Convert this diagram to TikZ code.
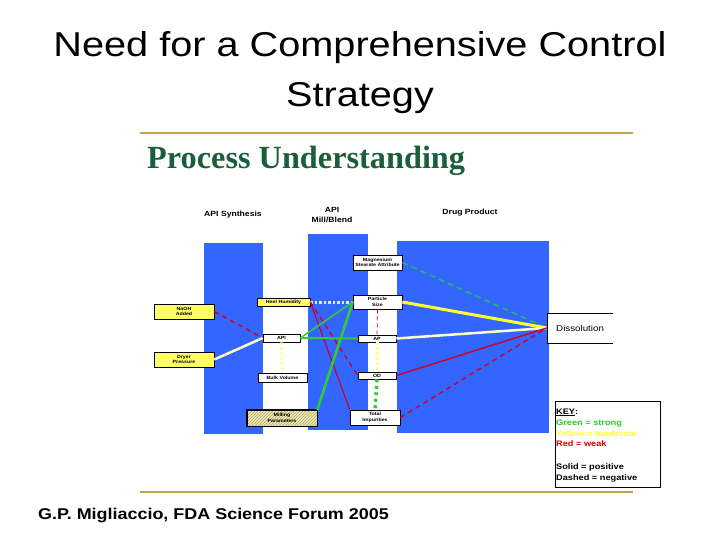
\documentclass[tikz,border=0pt]{standalone}
\usepackage{fontspec}
\setmainfont{Liberation Sans}
\newfontfamily\sfwide[FakeStretch=1.15]{Liberation Sans}
\newfontfamily\serifbig{Liberation Serif}
\usetikzlibrary{patterns}
\definecolor{blueC}{RGB}{51,102,255}
\definecolor{goldC}{RGB}{192,164,70}
\definecolor{pgreen}{RGB}{25,95,60}
\definecolor{yfill}{RGB}{255,255,102}
\definecolor{khaki}{RGB}{236,232,186}
\definecolor{hatchC}{RGB}{180,165,100}
\definecolor{redC}{RGB}{204,0,51}
\definecolor{greenC}{RGB}{51,204,51}
\definecolor{tealC}{RGB}{40,180,110}
\definecolor{yellowC}{RGB}{255,255,51}
\definecolor{paleY}{RGB}{255,255,200}
\definecolor{dotY}{RGB}{255,255,150}
\definecolor{dotW}{RGB}{225,232,255}
\definecolor{keyRed}{RGB}{210,0,0}
\definecolor{keyGreen}{RGB}{40,200,40}
\definecolor{keyYellow}{RGB}{255,255,40}
\begin{document}
\begin{tikzpicture}[x=1pt,y=-1pt,
  box/.style={draw=black, line width=0.6pt, fill=white, inner sep=0pt, align=center,
    font=\sfwide\bfseries\fontsize{4.6}{5.4}\selectfont},
  ybox/.style={box, fill=yfill},
  collabel/.style={font=\sfwide\bfseries\fontsize{7.5}{9.5}\selectfont, align=center, inner sep=0pt},
  keytext/.style={font=\sfwide\bfseries\fontsize{8}{10}\selectfont, anchor=base west, inner sep=0pt},
  conn/.style={line width=1.5pt},
  rsolid/.style={conn, draw=redC},
  rdash/.style={conn, draw=redC, dash pattern=on 5pt off 4pt},
  gsolid/.style={conn, draw=greenC},
  vdots/.style={line width=3pt, dash pattern=on 2.5pt off 2.5pt}
]
\useasboundingbox (0,0) rectangle (720,540);
\fill[white] (0,0) rectangle (720,540);

% title
\node[font=\sfwide\fontsize{34.5}{40}\selectfont, anchor=base, inner sep=0pt] (t1) at (360,57) {Need for a Comprehensive Control};
\node[font=\sfwide\fontsize{34.5}{40}\selectfont, anchor=base, inner sep=0pt] (t2) at (360,107) {Strategy};

% gold rules
\draw[goldC, line width=2pt] (140,133) -- (633,133);
\draw[goldC, line width=1.5pt] (140,492) -- (633,492);

\node[font=\serifbig\bfseries\fontsize{32.3}{36}\selectfont, text=pgreen, anchor=base west, inner sep=0pt] (pu) at (147,169) {Process Understanding};

% footer
\node[font=\sfwide\bfseries\fontsize{15.6}{18}\selectfont, anchor=base west, inner sep=0pt] (foot) at (38,519) {G.P. Migliaccio, FDA Science Forum 2005};

% columns
\fill[blueC] (204,243) rectangle (263,434);
\fill[blueC] (308,234) rectangle (368,430);
\fill[blueC] (397,241) rectangle (549,433);

% column labels
\node[collabel] (l1) at (233,215) {API Synthesis};
\node[collabel] (l2) at (332,215) {API\\Mill/Blend};
\node[collabel] (l3) at (470,213) {Drug Product};

% nodes
\node[ybox, minimum width=60pt, minimum height=15pt] (naoh) at (184,311.5) {NaOH\\Added};
\node[ybox, minimum width=60pt, minimum height=15pt] (dryer) at (184,359.5) {Dryer\\Pressure};
\node[ybox, minimum width=53pt, minimum height=8pt] (heel) at (283.5,302) {Heel Humidity};
\node[box, minimum width=37pt, minimum height=8pt] (api) at (281.5,338) {API};
\node[box, minimum width=49pt, minimum height=9pt] (bulk) at (282.5,377.5) {Bulk Volume};
\node[box, fill=khaki, preaction={fill=khaki}, pattern=north east lines, pattern color=hatchC,
  minimum width=70pt, minimum height=16pt] (mill) at (282,418) {};
\node[box, draw=none, fill=none] (millt) at (282,418) {Milling\\Parameters};
\draw[black, line width=0.6pt] (mill.south west) rectangle (mill.north east);
\node[box, minimum width=49pt, minimum height=15pt] (mgst) at (377.5,262.5) {Magnesium\\Stearate Attribute};
\node[box, minimum width=49pt, minimum height=14pt] (psize) at (377.5,302) {Particle\\Size};
\node[box, minimum width=38pt, minimum height=7pt] (ap) at (377,338.5) {AP};
\node[box, minimum width=38pt, minimum height=7pt] (od) at (377,375.5) {OD};
\node[box, minimum width=50pt, minimum height=15pt] (total) at (375,417.5) {Total\\Impurities};

% dissolution box
\node[fill=white, minimum width=66pt, minimum height=30pt, inner sep=0pt] (diss) at (580,328) {};
\draw[black, line width=0.6pt] (diss.north east) -- (diss.north west) -- (diss.south west) -- (diss.south east);
\node[font=\sfwide\fontsize{8.5}{10}\selectfont, anchor=west, inner sep=0pt] (disst) at (556,328) {Dissolution};

% connectors
\draw[rdash] (naoh.east) -- (api.west);
\draw[conn, draw=paleY, line width=2.5pt] (dryer.east) -- (api.west);
\draw[line width=3pt, draw=dotW, dash pattern=on 2.5pt off 2pt] (heel.east) -- (psize.west);
\draw[conn, draw=redC, line width=1.2pt] (heel.east) -- (total.north west);
\draw[rdash] (heel.east) -- (od.west);
\draw[gsolid] (api.east) -- (psize.west);
\draw[gsolid, line width=2pt] (api.east) -- (ap.west);
\draw[gsolid, line width=2.5pt] (mill.north east) -- (psize.west);
\draw[conn, draw=redC, line width=0.8pt, dash pattern=on 4pt off 3pt] (psize.south) -- (ap.north);
\draw[vdots, draw=dotY] (ap.south) -- (od.north);
\draw[vdots, draw=greenC, line width=3.5pt, dash pattern=on 3pt off 3.5pt] (od.south) -- (total.north);
\draw[vdots, draw=dotY] (api.south) -- (bulk.north);
\draw[conn, draw=tealC, dash pattern=on 6pt off 4pt] (mgst.east) -- (diss.west);
\draw[conn, draw=yellowC, line width=3pt] (psize.east) -- (diss.west);
\draw[conn, draw=paleY, line width=2.5pt] (ap.east) -- (diss.west);
\draw[rsolid] (od.east) -- (diss.west);
\draw[rdash] (total.east) -- (diss.west);

% key
\node[draw=black, line width=0.6pt, anchor=north west, minimum width=105pt, minimum height=86pt, inner sep=0pt] (key) at (555,401) {};
\node[keytext] (k1) at (556,414) {\underline{KEY}:};
\node[keytext, text=keyGreen] (k2) at (556,425) {Green = strong};
\node[keytext, text=keyYellow] (k3) at (556,436) {Yellow = moderate};
\node[keytext, text=keyRed] (k4) at (556,446.5) {Red = weak};
\node[keytext] (k5) at (556,469.5) {Solid = positive};
\node[keytext] (k6) at (556,480.5) {Dashed = negative};
\end{tikzpicture}
\end{document}
